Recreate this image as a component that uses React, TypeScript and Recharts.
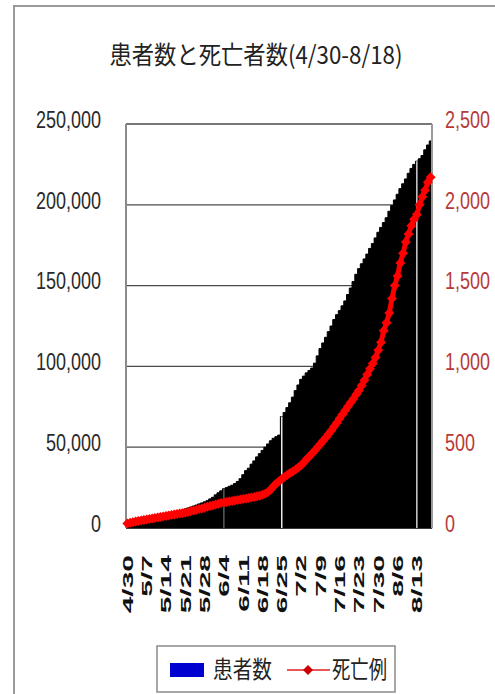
import React from "react";
import {
  ComposedChart,
  Bar,
  Line,
  XAxis,
  YAxis,
  CartesianGrid,
  ReferenceLine,
} from "recharts";

const dates = [
  "4/30",
  "5/1", "5/2", "5/3", "5/4", "5/5", "5/6", "5/7", "5/8", "5/9", "5/10",
  "5/11", "5/12", "5/13", "5/14", "5/15", "5/16", "5/17", "5/18", "5/19", "5/20",
  "5/21", "5/22", "5/23", "5/24", "5/25", "5/26", "5/27", "5/28", "5/29", "5/30", "5/31",
  "6/1", "6/2", "6/3", "6/4", "6/5", "6/6", "6/7", "6/8", "6/9", "6/10",
  "6/11", "6/12", "6/13", "6/14", "6/15", "6/16", "6/17", "6/18", "6/19", "6/20",
  "6/21", "6/22", "6/23", "6/24", "6/25", "6/26", "6/27", "6/28", "6/29", "6/30",
  "7/1", "7/2", "7/3", "7/4", "7/5", "7/6", "7/7", "7/8", "7/9", "7/10",
  "7/11", "7/12", "7/13", "7/14", "7/15", "7/16", "7/17", "7/18", "7/19", "7/20",
  "7/21", "7/22", "7/23", "7/24", "7/25", "7/26", "7/27", "7/28", "7/29", "7/30", "7/31",
  "8/1", "8/2", "8/3", "8/4", "8/5", "8/6", "8/7", "8/8", "8/9", "8/10",
  "8/11", "8/12", "8/13", "8/14", "8/15", "8/16", "8/17", "8/18",
];

const patients = [
  2000, 2400, 2800, 3300, 3700, 4100, 4600, 5000, 5400, 5900,
  6300, 6800, 7200, 7700, 8100, 8600, 9100, 9600, 10100, 10700,
  11200, 11800, 12400, 13000, 13600, 14200, 14900, 15500, 16200, 16900,
  18000, 19000, 20500, 21800, 23000, 24300, 25000, 25800, 26500, 27500,
  28800, 30500, 33000, 35500, 37000, 39500, 41500, 44000, 46000, 48000,
  50000, 52000, 54000, 55500, 56500, 57500, 69000, 71500, 74500, 77500,
  81000, 85000, 88500, 92000, 94000, 96000, 97500, 99000, 102000, 106500,
  111000, 114500, 118000, 121500, 125000, 129000, 132000, 134500, 137500, 140500,
  144500, 148500, 152500, 157000, 160500, 163500, 166500, 169500, 173000, 176000,
  179500, 183000, 186000, 189000, 192000, 196000, 199500, 203000, 206500, 210000,
  213000, 216000, 219500, 222500, 225000, 227000, 228500, 230500, 234000, 237000, 239500,
];

const deaths = [
  28, 32, 36, 40, 43, 47, 50, 53, 56, 59,
  62, 65, 68, 71, 74, 77, 80, 83, 86, 89,
  92, 95, 99, 103, 108, 112, 117, 121, 126, 131,
  136, 140, 145, 150, 154, 158, 161, 164, 167, 170,
  173, 176, 179, 182, 185, 188, 192, 196, 200, 205,
  212, 222, 238, 258, 275, 290, 303, 315, 328, 340,
  350, 362, 375, 388, 405, 425, 443, 461, 480, 500,
  520, 540, 560, 582, 603, 628, 652, 677, 702, 727,
  752, 776, 800, 826, 851, 882, 915, 950, 985, 1018,
  1055, 1100, 1150, 1220, 1270, 1330, 1420, 1500, 1560, 1640,
  1700, 1770, 1820, 1870, 1910, 1940, 2000, 2050, 2090, 2140, 2170,
];

const weekTicks = [
  "4/30", "5/7", "5/14", "5/21", "5/28", "6/4", "6/11", "6/18",
  "6/25", "7/2", "7/9", "7/16", "7/23", "7/30", "8/6", "8/13",
];

const leftTicks = [0, 50000, 100000, 150000, 200000, 250000];
const rightTicks = [0, 500, 1000, 1500, 2000, 2500];

const gapDates = ["6/4", "6/25", "8/13"];
const gapColors = ["#5a5a5a", "#e8e8f0", "#d0d0d8"];

const title = "患者数と死亡者数(4/30-8/18)";
const seriesPatients = "患者数";
const seriesDeaths = "死亡例";

const data = dates.map((d, i) => ({ date: d, patients: patients[i], deaths: deaths[i] }));

const fmt = (v: number) => v.toLocaleString("en-US");

const LeftTick = (props: any) => {
  const { y, payload } = props;
  return (
    <g transform={`translate(101, ${y - 5}) scale(1, 1.35)`}>
      <text x={0} y={0} dy="0.36em" textAnchor="end" fontSize={18} fill="#2a2a2a" fontFamily="Liberation Sans, Arial, sans-serif">
        {fmt(payload.value)}
      </text>
    </g>
  );
};

const RightTick = (props: any) => {
  const { y, payload } = props;
  return (
    <g transform={`translate(445, ${y - 5}) scale(1, 1.35)`}>
      <text x={0} y={0} dy="0.36em" textAnchor="start" fontSize={18} fill="#b83a3a" fontFamily="Liberation Sans, Arial, sans-serif">
        {fmt(payload.value)}
      </text>
    </g>
  );
};

const BottomTick = (props: any) => {
  const { x, payload } = props;
  return (
    <g transform={`translate(${x}, 555) rotate(-90) scale(2.0, 1)`}>
      <text x={0} y={0} dy="0.36em" textAnchor="end" fontSize={15} fontWeight="bold" fill="#111" fontFamily="Liberation Sans, Arial, sans-serif">
        {payload.value}
      </text>
    </g>
  );
};

const Diamond = (props: any) => {
  const { cx, cy } = props;
  if (cx == null || cy == null) return null;
  const r = 5;
  return (
    <polygon
      points={`${cx},${cy - r} ${cx + r},${cy} ${cx},${cy + r} ${cx - r},${cy}`}
      fill="#ff0000"
      stroke="none"
    />
  );
};

export default function App() {
  return (
    <div style={{ position: "absolute", left: 0, top: 0, width: 495, height: 694, overflow: "hidden", background: "#fff" }}>
      <div style={{ position: "absolute", left: 13, top: 5, width: 520, height: 720, border: "2px solid #9a9a9a", boxSizing: "border-box" }} />
      <ComposedChart
        width={495}
        height={694}
        data={data}
        margin={{ top: 124, right: 0, bottom: 0, left: 0 }}
        barCategoryGap={0}
        barGap={0}
        style={{ position: "absolute", left: 0, top: 0 }}
      >
        <CartesianGrid vertical={false} stroke="#4a4a4a" strokeWidth={1.3} yAxisId="left" />
        <XAxis
          dataKey="date"
          ticks={weekTicks}
          interval={0}
          tickLine={false}
          axisLine={false}
          height={166}
          tick={<BottomTick />}
        />
        <YAxis
          yAxisId="left"
          orientation="left"
          width={126}
          domain={[0, 250000]}
          ticks={leftTicks}
          tickLine={false}
          axisLine={{ stroke: "#8a8a8a", strokeWidth: 2 }}
          tick={<LeftTick />}
        />
        <YAxis
          yAxisId="right"
          orientation="right"
          width={63}
          domain={[0, 2500]}
          ticks={rightTicks}
          tickLine={false}
          axisLine={{ stroke: "#9a9a9a", strokeWidth: 2 }}
          tick={<RightTick />}
        />
        <Bar yAxisId="left" dataKey="patients" fill="#000000" stroke="#000000" strokeWidth={1} isAnimationActive={false} />
        {gapDates.map((d, k) => (
          <ReferenceLine
            key={d}
            yAxisId="left"
            segment={[
              { x: d, y: 0 },
              { x: d, y: patients[dates.indexOf(d)] },
            ]}
            stroke={gapColors[k]}
            strokeWidth={1.5}
          />
        ))}
        <Line
          yAxisId="right"
          dataKey="deaths"
          stroke="#ff0000"
          strokeWidth={5}
          dot={<Diamond />}
          activeDot={false}
          isAnimationActive={false}
        />
      </ComposedChart>
      <svg width={495} height={694} style={{ position: "absolute", left: 0, top: 0, pointerEvents: "none" }}>
        <g transform="translate(256, 55) scale(1, 1.3)">
          <text x={0} y={0} dy="0.36em" textAnchor="middle" fontSize={19} fill="#222" fontFamily="Noto Sans CJK JP, sans-serif" textLength={293} lengthAdjust="spacingAndGlyphs">
            {title}
          </text>
        </g>
        <rect x={157} y={646} width={238} height={46} fill="#fff" stroke="#8a8a8a" strokeWidth={1.5} />
        <rect x={170} y={663} width={34} height={14} fill="#0000d0" />
        <g transform="translate(213, 670) scale(1, 1.3)">
          <text x={0} y={0} dy="0.36em" fontSize={18} fill="#222" fontFamily="Noto Sans CJK JP, sans-serif" textLength={59} lengthAdjust="spacingAndGlyphs">
            {seriesPatients}
          </text>
        </g>
        <line x1={287} y1={670} x2={330} y2={670} stroke="#e02020" strokeWidth={1.5} />
        <polygon points="308,665 313,670 308,675 303,670" fill="#cc0000" />
        <g transform="translate(332, 670) scale(1, 1.3)">
          <text x={0} y={0} dy="0.36em" fontSize={18} fill="#222" fontFamily="Noto Sans CJK JP, sans-serif" textLength={55} lengthAdjust="spacingAndGlyphs">
            {seriesDeaths}
          </text>
        </g>
      </svg>
    </div>
  );
}
